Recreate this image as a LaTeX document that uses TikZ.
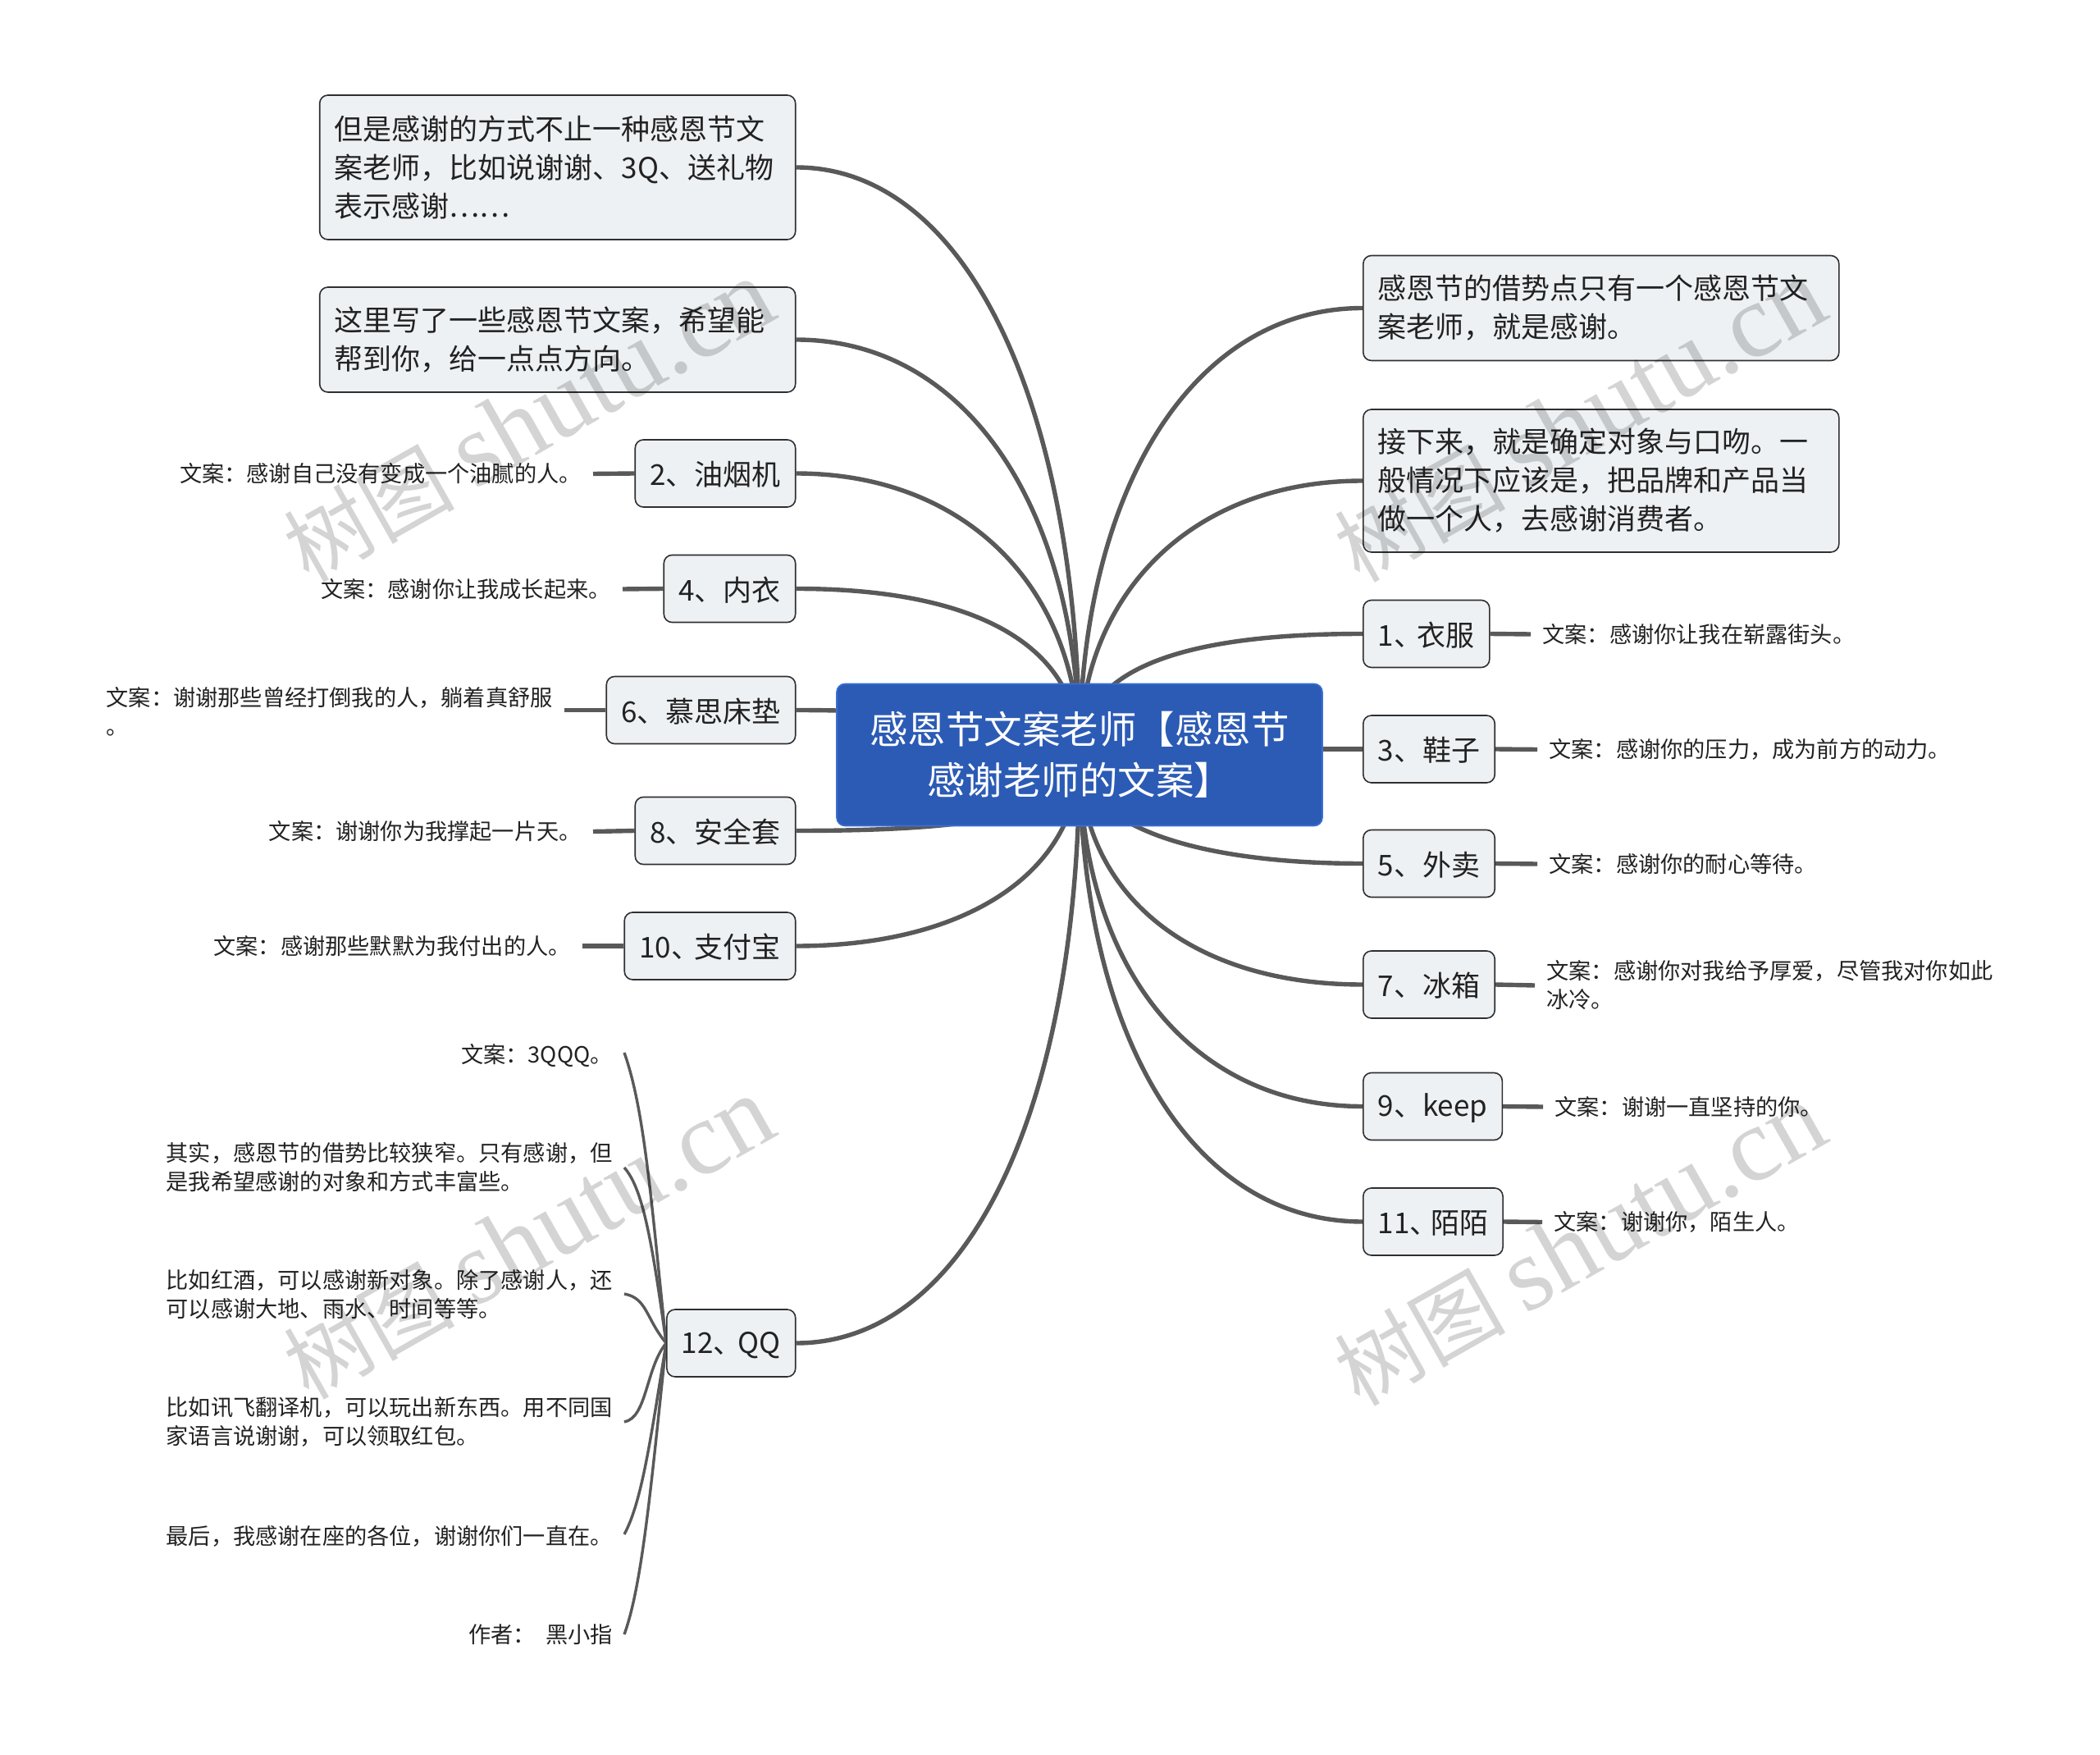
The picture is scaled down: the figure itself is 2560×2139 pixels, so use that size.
\documentclass[tikz,border=0pt]{standalone}
\usepackage{fontspec}
\setmainfont{Noto Sans CJK SC}
\newfontfamily\markfont{Liberation Serif}
\pgfdeclarelayer{under}
\pgfsetlayers{under,main}
\definecolor{boxfill}{HTML}{EEF1F4}
\definecolor{boxline}{HTML}{2F2F2F}
\definecolor{linkgray}{HTML}{595959}
\definecolor{rootblue}{HTML}{2C5BB5}
\definecolor{rootline}{HTML}{3A6FD6}
\definecolor{inkgray}{HTML}{222222}
\tikzset{
	rootbox/.style={draw=rootline, line width=0.8pt, fill=rootblue, rounded corners=5pt, text=white, align=center,
		minimum width=296pt, minimum height=86.5pt, font=\fontsize{23.25}{31}\selectfont},
	basebox/.style={draw=boxline, line width=0.8pt, fill=boxfill, rounded corners=5pt, text=inkgray, inner xsep=9pt,
		inner ysep=0pt, font=\fontsize{17.5}{23.5}\selectfont},
	topicbox/.style={basebox, minimum height=41pt, text height=16pt},
	notebox/.style={basebox, text width=272pt, align=left},
	leftnote/.style={anchor=east, text=inkgray, inner xsep=7pt, inner ysep=0pt, font=\fontsize{13.6}{17.5}\selectfont},
	rightnote/.style={leftnote, anchor=west},
	branch/.style={draw=linkgray, line width=2.7pt},
	twig/.style={draw=linkgray, line width=1.7pt},
	markword/.style={text=black, opacity=0.17, rotate=29.5, font=\fontsize{52}{60}\selectfont}
}
\begin{document}
\begin{tikzpicture}[x=0.5pt,y=-0.5pt]
	\useasboundingbox (0,0) rectangle (2560,2139);
	% 中心主题
	\node[rootbox] (root) at (1316,920) {感恩节文案老师【感恩节\\感谢老师的文案】};

	% 左侧主题
	\node[notebox, minimum height=88pt, anchor=east] (thanksway) at (970.5,204) {但是感谢的方式不止一种感恩节文\\案老师，比如说谢谢、3Q、送礼物\\表示感谢……};
	\node[notebox, minimum height=64pt, anchor=east] (wrotehere) at (970.5,414) {这里写了一些感恩节文案，希望能\\帮到你，给一点点方向。};
	\node[topicbox, anchor=east] (hood) at (970.5,577) {2、油烟机};
	\node[topicbox, anchor=east] (underwear) at (970.5,717.5) {4、内衣};
	\node[topicbox, anchor=east] (mattress) at (970.5,865.5) {6、慕思床垫};
	\node[topicbox, anchor=east] (condom) at (970.5,1012.5) {8、安全套};
	\node[topicbox, anchor=east] (alipay) at (970.5,1153) {10、\kern-3.2pt支付宝};
	\node[topicbox, anchor=east] (qq) at (970.5,1637) {12、\kern-2.5pt QQ};

	% 右侧主题
	\node[notebox, minimum height=64pt, anchor=west] (hotspot) at (1661,375.5) {感恩节的借势点只有一个感恩节文\\案老师，就是感谢。};
	\node[notebox, minimum height=87pt, anchor=west] (nextstep) at (1661,586) {接下来，就是确定对象与口吻。一\\般情况下应该是，把品牌和产品当\\做一个人，去感谢消费者。};
	\node[topicbox, anchor=west] (clothes) at (1661,772.5) {1、\kern-3.2pt衣服};
	\node[topicbox, anchor=west] (shoes) at (1661,913) {3、鞋子};
	\node[topicbox, anchor=west] (takeout) at (1661,1052.5) {5、外卖};
	\node[topicbox, anchor=west] (fridge) at (1661,1200) {7、冰箱};
	\node[topicbox, anchor=west] (keep) at (1661,1348.5) {9、keep};
	\node[topicbox, anchor=west] (momo) at (1661,1489) {11、\kern-4.8pt陌陌};

	% 左侧文案
	\node[leftnote] (hoodnote) at (723,577.5) {文案：感谢自己没有变成一个油腻的人。};
	\node[leftnote] (underwearnote) at (759,718) {文案：感谢你让我成长起来。};
	\node[leftnote, text width=272pt, align=left] (mattressnote) at (688,867) {文案：谢谢那些曾经打倒我的人，躺着真舒服\\。};
	\node[leftnote] (condomnote) at (723,1013.5) {文案：谢谢你为我撑起一片天。};
	\node[leftnote] (alipaynote) at (710,1153) {文案：感谢那些默默为我付出的人。};

	% 右侧文案
	\node[rightnote] (clothesnote) at (1866,773) {文案：感谢你让我在崭露街头。};
	\node[rightnote] (shoesnote) at (1874,913.5) {文案：感谢你的压力，成为前方的动力。};
	\node[rightnote] (takeoutnote) at (1874,1053) {文案：感谢你的耐心等待。};
	\node[rightnote, text width=272pt, align=left] (fridgenote) at (1871,1201) {文案：感谢你对我给予厚爱，尽管我对你如此\\冰冷。};
	\node[rightnote] (keepnote) at (1881,1349) {文案：谢谢一直坚持的你。};
	\node[rightnote] (momonote) at (1880,1489.5) {文案：谢谢你，陌生人。};

	% QQ 的文案
	\node[leftnote] (qqone) at (761,1286) {文案：3QQQ。};
	\node[leftnote, text width=272pt, align=left] (qqtwo) at (761,1423) {其实，感恩节的借势比较狭窄。只有感谢，但\\是我希望感谢的对象和方式丰富些。};
	\node[leftnote, text width=272pt, align=left] (qqthree) at (761,1578) {比如红酒，可以感谢新对象。除了感谢人，还\\可以感谢大地、雨水、时间等等。};
	\node[leftnote, text width=272pt, align=left] (qqfour) at (761,1733) {比如讯飞翻译机，可以玩出新东西。用不同国\\家语言说谢谢，可以领取红包。};
	\node[leftnote, text width=272pt, align=left] (qqfive) at (761,1872) {最后，我感谢在座的各位，谢谢你们一直在。};
	\node[leftnote] (qqsix) at (761,1992) {作者：\ \ 黑小指};

	\begin{pgfonlayer}{under}
		% 中心到左侧主题
		\draw[branch] (thanksway.east) .. controls +(208,0) and +(0,-426) .. (root.center);
		\draw[branch] (wrotehere.east) .. controls +(208,0) and +(0,-300) .. (root.center);
		\draw[branch] (hood.east) .. controls +(208,0) and +(0,-202) .. (root.center);
		\draw[branch] (underwear.east) .. controls +(208,0) and +(0,-140) .. (root.center);
		\draw[branch] (mattress.east) .. controls +(208,0) and +(0,-29) .. (root.center);
		\draw[branch] (condom.east) .. controls +(208,0) and +(0,76) .. (root.center);
		\draw[branch] (alipay.east) .. controls +(208,0) and +(0,143) .. (root.center);
		\draw[branch] (qq.east) .. controls +(208,0) and +(0,434) .. (root.center);
		% 中心到右侧主题
		\draw[branch] (hotspot.west) .. controls +(-207,0) and +(0,-323) .. (root.center);
		\draw[branch] (nextstep.west) .. controls +(-207,0) and +(0,-197) .. (root.center);
		\draw[branch] (clothes.west) .. controls +(-207,0) and +(0,-110) .. (root.center);
		\draw[branch] (shoes.west) -- (root.east |- shoes.west);
		\draw[branch] (takeout.west) .. controls +(-207,0) and +(0,85) .. (root.center);
		\draw[branch] (fridge.west) .. controls +(-207,0) and +(0,172) .. (root.center);
		\draw[branch] (keep.west) .. controls +(-207,0) and +(0,260) .. (root.center);
		\draw[branch] (momo.west) .. controls +(-207,0) and +(0,345) .. (root.center);
		% 主题到文案
		\draw[branch] (hood.west) -- (hoodnote.east);
		\draw[branch] (underwear.west) -- (underwearnote.east);
		\draw[branch] (mattress.west) -- (mattress.west -| mattressnote.east);
		\draw[branch] (condom.west) -- (condomnote.east);
		\draw[branch] (alipay.west) -- (alipaynote.east);
		\draw[branch] (clothes.east) -- (clothesnote.west);
		\draw[branch] (shoes.east) -- (shoesnote.west);
		\draw[branch] (takeout.east) -- (takeoutnote.west);
		\draw[branch] (fridge.east) -- (fridgenote.west);
		\draw[branch] (keep.east) -- (keepnote.west);
		\draw[branch] (momo.east) -- (momonote.west);
		% QQ 到文案
		\draw[twig] (qqone.east) ++(0,-3) .. controls +(25,70) and +(-18,-170) .. (qq.west);
		\draw[twig] (qqtwo.east) .. controls +(22,25) and +(-18,-130) .. (qq.west);
		\draw[twig] (qqthree.east) ++(0,-1) .. controls +(28,5) and +(-25,-30) .. (qq.west);
		\draw[twig] (qqfour.east) .. controls +(28,-5) and +(-25,30) .. (qq.west);
		\draw[twig] (qqfive.east) ++(0,-2) .. controls +(22,-40) and +(-18,110) .. (qq.west);
		\draw[twig] (qqsix.east) .. controls +(22,-60) and +(-18,170) .. (qq.west);
	\end{pgfonlayer}

	% 水印
	\node[markword] (markone) at (645,514) {树图 {\markfont\fontsize{64}{60}\selectfont shutu.cn}};
	\node[markword] (marktwo) at (1926,514) {树图 {\markfont\fontsize{64}{60}\selectfont shutu.cn}};
	\node[markword] (markthree) at (645,1510) {树图 {\markfont\fontsize{64}{60}\selectfont shutu.cn}};
	\node[markword] (markfour) at (1926,1518) {树图 {\markfont\fontsize{64}{60}\selectfont shutu.cn}};
\end{tikzpicture}
\end{document}
